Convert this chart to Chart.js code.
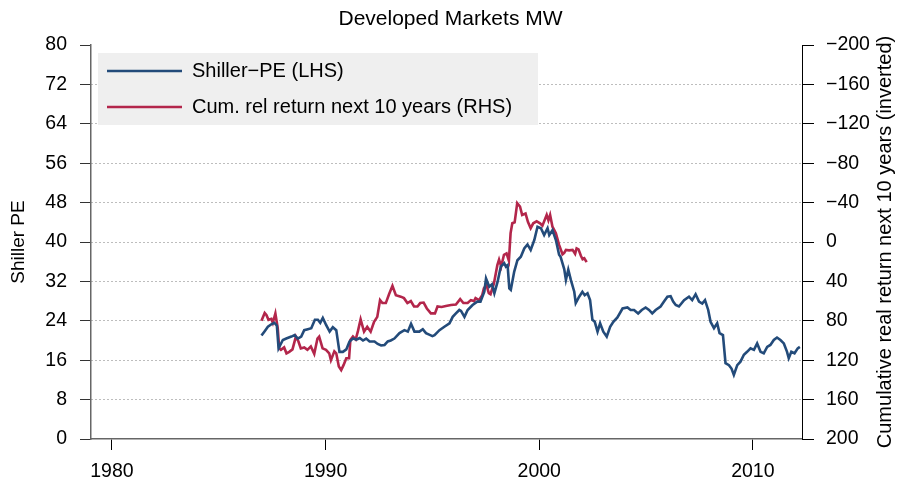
<!DOCTYPE html>
<html>
<head>
<meta charset="utf-8">
<script src="https://cdn.jsdelivr.net/npm/chart.js@4.4.1/dist/chart.umd.min.js"></script>
<style>
  html, body { margin: 0; padding: 0; background: #ffffff; }
  #wrap { width: 901px; height: 487px; }
</style>
</head>
<body>
<div id="wrap"><canvas id="c" width="901" height="487"></canvas></div>
<script>
// ---------- data ----------
const chartTitle = "Developed Markets MW";
const leftAxisTitle = "Shiller PE";
const rightAxisTitle = "Cumulative real return next 10 years (inverted)";
const seriesNames = ["Shiller\u2212PE (LHS)", "Cum. rel return next 10 years (RHS)"];
const xTickValues = [1980, 1990, 2000, 2010];

const peYears = [
  1987.0, 1987.15, 1987.3, 1987.46, 1987.6, 1987.72, 1987.8,
  1988.0, 1988.16, 1988.4, 1988.55, 1988.7, 1988.86,
  1989.0, 1989.17, 1989.33, 1989.5, 1989.64, 1989.75, 1989.87,
  1990.03, 1990.19, 1990.34, 1990.5, 1990.65, 1990.81, 1990.97,
  1991.12, 1991.28, 1991.45, 1991.6, 1991.75, 1991.9,
  1992.06, 1992.29, 1992.44, 1992.6, 1992.76, 1992.91,
  1993.05, 1993.22, 1993.46, 1993.69, 1993.85,
  1994.0, 1994.16, 1994.39, 1994.55, 1994.7, 1994.85,
  1995.0, 1995.1, 1995.33, 1995.56, 1995.8, 1995.95,
  1996.1, 1996.26, 1996.34, 1996.5, 1996.65, 1996.88,
  1997.1, 1997.25, 1997.43, 1997.51, 1997.66, 1997.79, 1997.9,
  1998.05, 1998.2, 1998.36, 1998.44, 1998.52, 1998.6, 1998.67, 1998.83, 1998.98,
  1999.14, 1999.3, 1999.45, 1999.6, 1999.77, 1999.92,
  2000.08, 2000.23, 2000.39, 2000.47, 2000.62, 2000.78, 2000.93,
  2001.0, 2001.17, 2001.25, 2001.36, 2001.48, 2001.64, 2001.71, 2001.87,
  2002.02, 2002.13, 2002.26, 2002.38, 2002.49, 2002.6, 2002.73, 2002.85,
  2003.0, 2003.16, 2003.32, 2003.47, 2003.66, 2003.9,
  2004.13, 2004.28, 2004.44, 2004.63, 2004.8, 2004.98,
  2005.14, 2005.29, 2005.45, 2005.68, 2005.84,
  2006.0, 2006.15, 2006.27, 2006.39, 2006.54, 2006.78,
  2007.01, 2007.16, 2007.32, 2007.48, 2007.63, 2007.76, 2007.91,
  2008.02, 2008.18, 2008.33, 2008.44, 2008.6, 2008.72, 2008.88,
  2009.0, 2009.11, 2009.27, 2009.42, 2009.58, 2009.73, 2009.89,
  2010.05, 2010.2, 2010.36, 2010.51, 2010.67, 2010.82, 2010.98,
  2011.13, 2011.29, 2011.45, 2011.6, 2011.68, 2011.8, 2011.95,
  2012.1, 2012.2
];
const peValues = [
  21.0, 21.9, 22.8, 23.3, 23.6, 23.0, 18.4,
  20.1, 20.4, 20.8, 21.1, 20.4, 20.8,
  22.1, 22.3, 22.5, 24.2, 24.2, 23.6, 24.6,
  23.1, 21.8, 22.7, 22.1, 17.7, 17.7, 18.2,
  19.8, 20.4, 20.2, 20.5, 20.0, 20.4,
  19.8, 19.8, 19.3, 19.0, 19.1, 19.8,
  20.0, 20.4, 21.5, 22.1, 21.8,
  23.4, 21.8, 21.8, 22.3, 21.5, 21.2,
  20.9, 21.1, 22.1, 22.8, 23.5, 24.8,
  25.5, 26.2, 26.0, 24.8, 26.2, 27.2,
  27.9, 27.9, 29.9, 32.6, 30.9, 31.4, 29.6,
  31.9, 35.0, 35.7, 35.0, 35.3, 30.6, 30.3, 34.0, 36.3,
  37.0, 38.7, 39.5, 38.4, 40.4, 43.1,
  42.8, 41.4, 42.8, 41.4, 42.4, 40.4, 37.4,
  37.0, 34.5, 32.3, 34.4, 32.3, 29.9, 27.6, 28.9,
  29.9, 29.2, 29.6, 28.2, 24.2, 23.8, 21.8, 23.5,
  21.8, 20.8, 22.8, 23.8, 24.7, 26.5,
  26.7, 26.2, 26.2, 25.5, 26.2, 26.7,
  26.2, 25.5, 26.2, 26.9, 27.9,
  28.9, 29.0, 27.9, 27.2, 26.9, 28.2,
  28.9, 28.2, 29.4, 27.9, 27.5, 28.2, 26.2,
  23.8, 22.5, 23.5, 21.5, 21.1, 15.4, 15.0,
  14.3, 13.0, 15.0, 15.7, 17.1, 17.7, 18.4,
  18.1, 19.4, 17.7, 17.4, 18.7, 19.1, 20.1,
  20.6, 20.1, 19.4, 17.7, 16.4, 17.7, 17.4,
  18.4, 18.7
];

const retYears = [
  1987.0, 1987.15, 1987.23, 1987.33, 1987.46, 1987.53, 1987.65, 1987.76, 1987.83, 1987.91,
  1988.06, 1988.17, 1988.3, 1988.45, 1988.61, 1988.73, 1988.84,
  1989.0, 1989.15, 1989.31, 1989.47, 1989.62, 1989.7, 1989.86,
  1990.02, 1990.17, 1990.25, 1990.41, 1990.5, 1990.62, 1990.73, 1990.84, 1990.97,
  1991.1, 1991.16, 1991.28, 1991.41, 1991.52, 1991.64, 1991.8, 1991.95,
  1992.11, 1992.27, 1992.42, 1992.55, 1992.66, 1992.82, 1992.97,
  1993.13, 1993.29, 1993.52, 1993.67, 1993.83, 1993.99,
  1994.14, 1994.3, 1994.43, 1994.59, 1994.74, 1994.93,
  1995.12, 1995.24, 1995.43, 1995.63, 1995.87,
  1996.1, 1996.3, 1996.45, 1996.65, 1996.8, 1996.95,
  1997.02, 1997.18, 1997.33, 1997.41, 1997.53, 1997.64, 1997.72, 1997.88,
  1998.04, 1998.12, 1998.22, 1998.35, 1998.47, 1998.58, 1998.66, 1998.74, 1998.85, 1998.97,
  1999.1, 1999.2, 1999.36, 1999.47, 1999.6, 1999.72, 1999.88,
  2000.04, 2000.15, 2000.26, 2000.35, 2000.43, 2000.51, 2000.62, 2000.78, 2000.93,
  2001.09, 2001.17, 2001.25, 2001.4, 2001.56, 2001.68, 2001.75, 2001.84, 2001.95,
  2002.03, 2002.11, 2002.22
];
const retValues = [
  80, 72, 74, 79, 78, 82, 72.5, 87.5, 108, 109.5,
  107, 113, 111.5, 109, 96, 101, 108,
  107, 109.5, 106, 113.5, 98, 96, 108,
  109.5, 113, 120, 111, 113, 126.5, 130, 125, 118,
  118, 99.5, 96, 99, 90, 78.5, 91, 86,
  91, 81, 76, 59, 62, 62, 53,
  44.5, 54, 55.5, 57, 62, 60,
  65.5, 65.5, 62, 61.5, 67.5, 72.5,
  72.5, 65.5, 66, 65, 64,
  63.5, 58, 62, 62, 59, 60,
  57, 59, 54, 47, 43.5, 52, 53, 42,
  23.5, 18, 25, 13, 11.5, 19, -9, -19, -20, -39.5,
  -36, -27.5, -29, -20.5, -14, -19, -21,
  -19, -16.5, -22.5, -27.5, -22, -27.5, -15.5, -9, 3,
  12.5, 11, 8, 8.5, 8, 12, 6.5, 7.5, 14,
  17.5, 16.5, 20.5
];

// ---------- styling ----------
const FONT = "'Liberation Sans', Arial, Helvetica, sans-serif";
const BLUE = "#234b7a";
const RED = "#b3264b";
Chart.defaults.font.family = FONT;
Chart.defaults.color = "#000000";

const legendBg = {
  id: "legendBg",
  afterLayout(chart) {
    const lg = chart.legend;
    if (lg && !lg._bgWrapped) {
      const orig = lg.draw.bind(lg);
      lg.draw = function () {
        const ca = chart.chartArea, c = chart.ctx;
        lg.left = ca.left; lg.top = ca.top; lg.right = ca.right; lg.bottom = ca.bottom;
        c.save();
        c.fillStyle = "#efefef";
        c.fillRect(ca.left + 7, ca.top + 8, 440, 72);
        c.restore();
        orig();
      };
      lg._bgWrapped = true;
    }
  }
};

const rightTitle = {
  id: "rightTitle",
  afterDraw(chart) {
    const c = chart.ctx, ca = chart.chartArea;
    c.save();
    c.translate(chart.width - 16, (ca.top + ca.bottom) / 2);
    c.rotate(-Math.PI / 2);
    c.font = "20px " + FONT;
    c.fillStyle = "#000";
    c.textAlign = "center";
    c.textBaseline = "middle";
    c.fillText(rightAxisTitle, 0, 0);
    c.restore();
  }
};

new Chart(document.getElementById("c"), {
  type: "line",
  data: {
    datasets: [
      {
        label: seriesNames[0],
        data: peYears.map((x, i) => ({ x: x, y: peValues[i] })),
        yAxisID: "y",
        borderColor: BLUE,
        backgroundColor: BLUE,
        borderWidth: 2.6,
        pointRadius: 0,
        tension: 0
      },
      {
        label: seriesNames[1],
        data: retYears.map((x, i) => ({ x: x, y: retValues[i] })),
        yAxisID: "y2",
        borderColor: RED,
        backgroundColor: RED,
        borderWidth: 2.6,
        pointRadius: 0,
        tension: 0
      }
    ]
  },
  options: {
    responsive: false,
    animation: false,
    devicePixelRatio: 1,
    layout: { padding: { left: 0, right: 0, top: 0, bottom: 0 } },
    plugins: {
      title: {
        display: true,
        text: chartTitle,
        font: { size: 21, weight: "normal" },
        color: "#000",
        padding: { top: 7, bottom: 12.8 }
      },
      legend: {
        position: "chartArea",
        align: "start",
        labels: {
          boxWidth: 75,
          boxHeight: 2.6,
          padding: 16,
          font: { size: 20 },
          color: "#000",
          generateLabels: (chart) =>
            Chart.defaults.plugins.legend.labels.generateLabels(chart).map(l => Object.assign(l, { lineWidth: 0, fillStyle: l.strokeStyle }))
        }
      },
      tooltip: { enabled: false }
    },
    scales: {
      x: {
        type: "linear",
        position: "bottom",
        min: 1979.02,
        max: 2012.3,
        afterBuildTicks: (s) => { s.ticks = xTickValues.map(v => ({ value: v })); },
        afterFit: (s) => { s.height = 48; },
        ticks: {
          font: { size: 19.5 },
          color: "#000",
          padding: 10,
          maxRotation: 0,
          callback: (v) => String(v)
        },
        grid: { drawOnChartArea: false, drawTicks: true, tickLength: 11, tickColor: "#000", tickWidth: 1 },
        border: { display: true, color: "#666", width: 1.5 }
      },
      y: {
        type: "linear",
        position: "left",
        min: 0,
        max: 80,
        afterFit: (s) => { s.width = 91; },
        ticks: { stepSize: 8, font: { size: 19.5 }, color: "#000", padding: 13 },
        title: { display: true, text: leftAxisTitle, font: { size: 19 }, color: "#000", padding: { top: 7, bottom: 0 } },
        grid: {
          drawOnChartArea: true,
          color: (ctx) => (ctx.tick && (ctx.tick.value === 0 || ctx.tick.value === 80)) ? "rgba(0,0,0,0)" : "#7a7a7a",
          lineWidth: 1,
          tickLength: 11,
          tickColor: "#333",
          tickWidth: 1
        },
        border: { display: true, color: "#666", width: 1.5, dash: [1, 3] }
      },
      y2: {
        type: "linear",
        position: "right",
        min: -200,
        max: 200,
        reverse: true,
        afterFit: (s) => { s.width = 99; },
        ticks: {
          stepSize: 40,
          font: { size: 19.5 },
          color: "#000",
          padding: 12,
          callback: (v) => String(v).replace("-", "\u2212")
        },
        grid: { drawOnChartArea: false, tickLength: 12, tickColor: "#000", tickWidth: 1 },
        border: { display: true, color: "#000", width: 1 }
      }
    }
  },
  plugins: [legendBg, rightTitle]
});
</script>
</body>
</html>
